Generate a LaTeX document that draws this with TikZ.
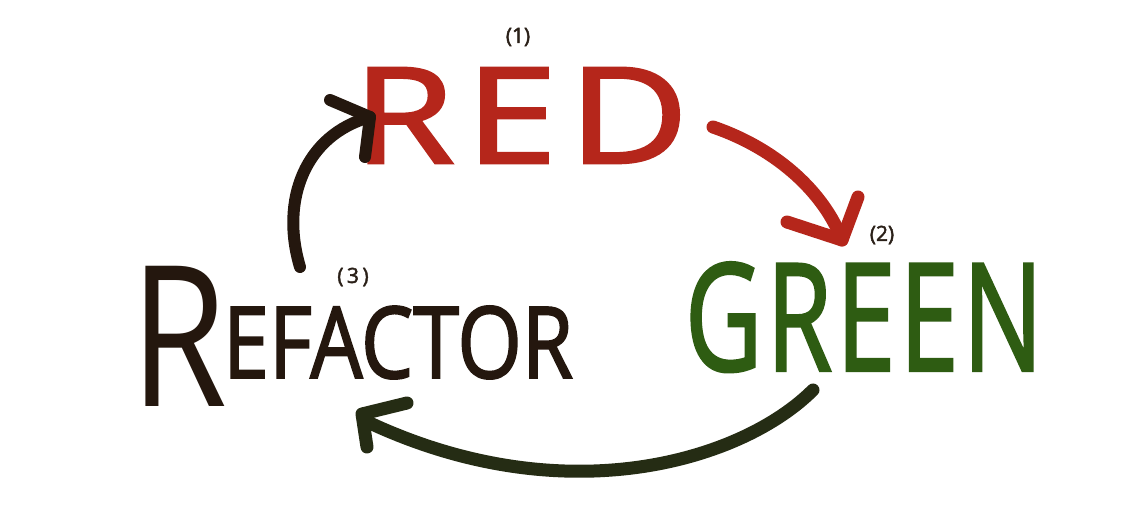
\documentclass[tikz,border=0pt]{standalone}
\usepackage{fontspec}
\setmainfont{Open Sans}
\newfontfamily\markerfont{Open Sans}[FakeBold=2]
\newfontfamily\numfont{Open Sans}[FakeBold=2]
\usepackage{graphicx}
\definecolor{redink}{HTML}{B5261B}
\definecolor{greenink}{HTML}{2E5C12}
\definecolor{blackink}{HTML}{24170E}
\definecolor{oliveink}{HTML}{252C14}
\definecolor{numink}{HTML}{2A2018}
\begin{document}
\begin{tikzpicture}[x=1pt,y=-1pt,
  word/.style={inner sep=0pt, outer sep=0pt, font=\markerfont},
  numlabel/.style={inner sep=0pt, text=numink, font=\numfont\fontsize{21}{21}\selectfont},
  inkline/.style={line width=#1, line cap=round, line join=round},
  inkline/.default=12pt]
\fill[white] (0,0) rectangle (1141,510);
\useasboundingbox (0,0) rectangle (1141,510);

% words
\node[word, text=redink, anchor=south west] (red) at (353,163)
  {\resizebox{335pt}{95pt}{\addfontfeature{LetterSpace=7}RED}};
\node[word, text=greenink, anchor=south west] (green) at (685,372)
  {\resizebox{358pt}{108pt}{\addfontfeature{LetterSpace=4}GREEN}};
\node[word, text=blackink, anchor=base west] (refactor) at (130,407)
  {\resizebox{97pt}{140pt}{\rmfamily R}\hspace{-4pt}\raisebox{29pt}{\resizebox{350pt}{72pt}{EFACTOR}}};

% step numbers
\node[numlabel] (n1) at (518,37) {(1)};
\node[numlabel] (n2) at (882,235) {(2)};
\node[numlabel] (n3) at (353,277) {(\,3\,)};

% red arrow: RED -> GREEN
\coordinate (ra) at (713,127);
\coordinate (rt) at (842,240);
\coordinate (ra1) at (787,222);
\coordinate (ra2) at (858,197);
\draw[inkline=13pt, redink] (ra) .. controls (780,150) and (825,195) .. (rt);
\draw[inkline=13pt, redink] (ra1) -- (rt) -- (ra2);

% bottom arrow: GREEN -> REFACTOR
\coordinate (ga) at (813,390);
\coordinate (gt) at (362,414);
\coordinate (ge) at (372,424);
\coordinate (ga1) at (407,403);
\coordinate (ga2) at (367,447);
\draw[inkline=13pt, oliveink] (ga) .. controls (743,460) and (568,514) .. (ge);
\draw[inkline=13pt, oliveink] (ga1) -- (gt) -- (ga2);

% left arrow: REFACTOR -> RED
\coordinate (ka) at (300,267);
\coordinate (kt) at (370,117);
\coordinate (ka1) at (330,100);
\coordinate (ka2) at (365,157);
\draw[inkline=12pt, blackink] (ka) .. controls (280,200) and (305,135) .. (kt);
\draw[inkline=12pt, blackink] (ka1) -- (kt) -- (ka2);
\end{tikzpicture}
\end{document}
